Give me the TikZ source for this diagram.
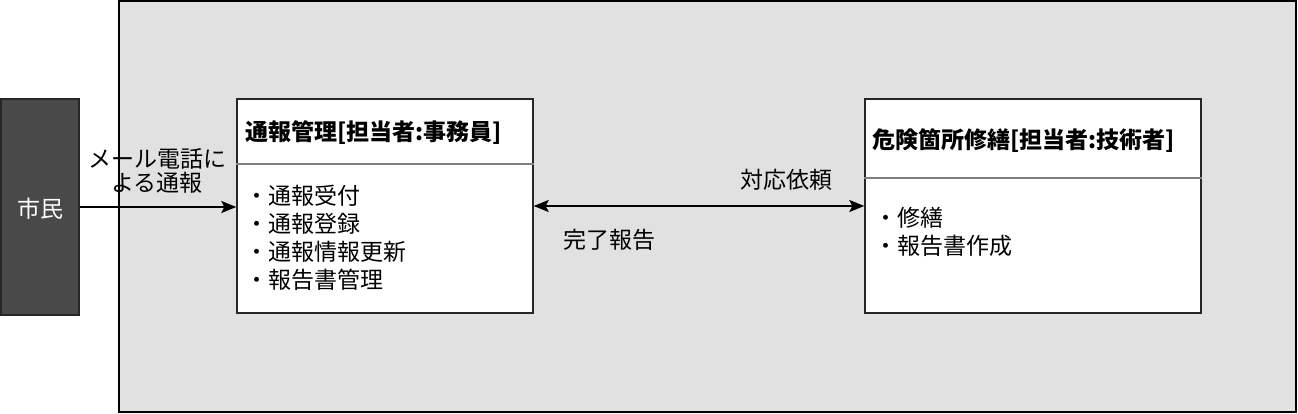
\documentclass[tikz,border=0pt]{standalone}
\usepackage{fontspec}
\setmainfont{Noto Sans CJK JP}
\usepackage{tikz}
\usetikzlibrary{arrows.meta, positioning}
\definecolor{areagray}{HTML}{E1E1E1}
\definecolor{shimingray}{HTML}{494949}
\definecolor{sepgray}{HTML}{808080}
\tikzset{>={Stealth[length=15pt,width=12pt,inset=3pt]}}
\tikzset{
    box/.style={draw=black!85, line width=1.4pt, fill=white, inner sep=0pt},
    txt/.style={font=\fontsize{23}{24}\selectfont, align=center, inner sep=0pt},
    item/.style={txt, anchor=west},
}

\begin{document}
\begin{tikzpicture}[x=1pt, y=-1pt]
    \useasboundingbox (0,0) rectangle (1298,414);
    \node[draw, fill=areagray, line width=2pt, minimum width=1177, minimum height=411, inner sep=0pt](area) at (707.5,206.5){};
    \node[box, fill=shimingray, minimum width=78, minimum height=216](shimin) at (40,207){};
    \node[txt, text=white](shiminlbl) at (40,209){市民};
    \node[box, minimum width=296, minimum height=214](tsuho) at (385,206){};
    \node[box, minimum width=336, minimum height=214](shuzen) at (1033,206){};
    \draw[sepgray, line width=1.4pt](tsuho.west |- 0,164)--(tsuho.east |- 0,164);
    \draw[sepgray, line width=1.4pt](shuzen.west |- 0,178)--(shuzen.east |- 0,178);
    \node[item, font=\fontsize{23}{24}\selectfont\bfseries](tsuhotitle) at (245,133){通報管理[担当者:事務員]};
    \node[item, font=\fontsize{23}{24}\selectfont\bfseries](shuzentitle) at (872,141){危険箇所修繕[担当者:技術者]};
    \foreach \y/\t in {196/通報受付,224/通報登録,252/通報情報更新,280/報告書管理}
    {
        \node[item](tsuho\y) at (245,\y){・\t};
    }
    \foreach \y/\t in {218/修繕,246/報告書作成}
    {
        \node[item](shuzen\y) at (874,\y){・\t};
    }
    \draw[->, line width=1.5pt](shimin.east)--(shimin.east -| tsuho.west);
    \draw[<->, line width=1.5pt](tsuho.east)--(shuzen.west);
    \node[txt](mail) at (157,171){メール電話に\\よる通報};
    \node[txt](irai) at (786,180){対応依頼};
    \node[txt](kanryo) at (609,240){完了報告};
\end{tikzpicture}
\end{document}
